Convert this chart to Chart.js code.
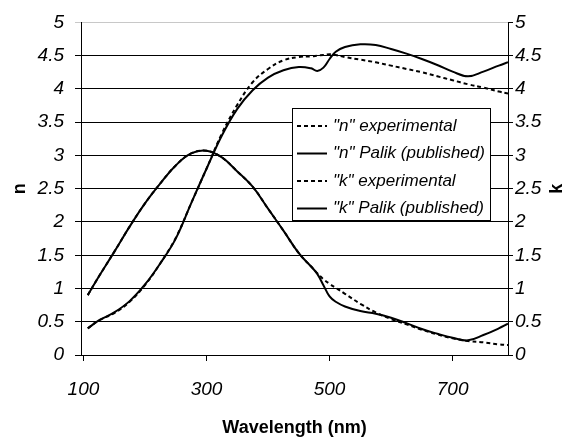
<!DOCTYPE html>
<html>
<head>
<meta charset="utf-8">
<script src="https://cdn.jsdelivr.net/npm/chart.js@4.4.1/dist/chart.umd.min.js"></script>
<style>
  html, body { margin: 0; padding: 0; background: #fff; }
</style>
</head>
<body>
<canvas id="chart" width="582" height="439"></canvas>
<script>
// values
const wavelength = [107, 125, 150, 175, 200, 225, 250, 275, 300, 325, 350, 375, 400, 425, 450, 470,
  480, 490, 500, 510, 525, 550, 575, 600, 625, 650, 675, 700, 725, 750, 775, 790];
const nExperimental = [0.40, 0.52, 0.63, 0.80, 1.05, 1.38, 1.76, 2.28, 2.80, 3.33, 3.76, 4.10, 4.30, 4.43, 4.48, 4.49,
  4.50, 4.51, 4.52, 4.51, 4.48, 4.44, 4.40, 4.35, 4.30, 4.25, 4.19, 4.13, 4.07, 4.02, 3.96, 3.93];
const nPalik = [0.40, 0.52, 0.64, 0.81, 1.06, 1.38, 1.75, 2.28, 2.80, 3.30, 3.70, 3.98, 4.17, 4.28, 4.33, 4.31,
  4.27, 4.32, 4.45, 4.56, 4.63, 4.67, 4.66, 4.60, 4.53, 4.45, 4.36, 4.26, 4.19, 4.26, 4.35, 4.40];
const kExperimental = [0.90, 1.18, 1.55, 1.93, 2.28, 2.58, 2.85, 3.03, 3.07, 2.97, 2.76, 2.53, 2.20, 1.87, 1.53, 1.33,
  1.23, 1.14, 1.07, 1.01, 0.92, 0.77, 0.64, 0.54, 0.46, 0.38, 0.31, 0.25, 0.21, 0.19, 0.16, 0.15];
const kPalik = [0.90, 1.18, 1.55, 1.93, 2.28, 2.58, 2.85, 3.03, 3.07, 2.97, 2.76, 2.53, 2.20, 1.87, 1.53, 1.33,
  1.22, 1.05, 0.88, 0.80, 0.73, 0.66, 0.62, 0.56, 0.48, 0.39, 0.32, 0.26, 0.22, 0.30, 0.40, 0.47];

const seriesLabels = ['"n" experimental', '"n" Palik (published)', '"k" experimental', '"k" Palik (published)'];
const xTicks = [100, 300, 500, 700];
const yTicks = [0, 0.5, 1, 1.5, 2, 2.5, 3, 3.5, 4, 4.5, 5];

const FONT = '"Liberation Sans", Arial, sans-serif';

const pts = (arr) => wavelength.map((w, i) => ({ x: w, y: arr[i] }));

// legend box inside the plot + right axis title rotated like Excel does it
const boxLegend = {
  id: 'boxLegend',
  afterDraw(chart) {
    const ctx = chart.ctx;
    const x = 292, y = 108, w = 198, h = 112;
    ctx.save();
    ctx.fillStyle = '#fff';
    ctx.fillRect(x, y, w, h);
    ctx.strokeStyle = '#000';
    ctx.lineWidth = 1;
    ctx.strokeRect(x + 0.5, y + 0.5, w, h);
    chart.data.datasets.forEach((ds, i) => {
      const cy = y + 18 + i * 27.5;
      ctx.beginPath();
      ctx.setLineDash(ds.borderDash || []);
      ctx.lineWidth = 2;
      ctx.strokeStyle = '#000';
      ctx.moveTo(x + 5, cy);
      ctx.lineTo(x + 35, cy);
      ctx.stroke();
      ctx.setLineDash([]);
      ctx.fillStyle = '#000';
      ctx.font = 'italic 17px ' + FONT;
      ctx.textBaseline = 'middle';
      ctx.textAlign = 'left';
      ctx.fillText(ds.label, x + 41, cy);
    });
    const area = chart.chartArea;
    ctx.translate(557, (area.top + area.bottom) / 2);
    ctx.rotate(-Math.PI / 2);
    ctx.font = 'bold 18px ' + FONT;
    ctx.textAlign = 'center';
    ctx.textBaseline = 'middle';
    ctx.fillText('k', 0, 0);
    ctx.restore();
  }
};

const tickFont = { family: FONT, size: 19, style: 'italic', weight: 'normal' };
const titleFont = { family: FONT, size: 18, style: 'normal', weight: 'bold' };
const plainLabel = v => String(v);

new Chart(document.getElementById('chart'), {
  type: 'line',
  data: {
    datasets: [
      { label: seriesLabels[0], data: pts(nExperimental), yAxisID: 'y', borderDash: [4, 3] },
      { label: seriesLabels[1], data: pts(nPalik), yAxisID: 'y' },
      { label: seriesLabels[2], data: pts(kExperimental), yAxisID: 'y2', borderDash: [4, 3] },
      { label: seriesLabels[3], data: pts(kPalik), yAxisID: 'y2' }
    ].map(ds => Object.assign({
      borderColor: '#000',
      borderWidth: 2,
      pointRadius: 0,
      fill: false,
      tension: 0.4
    }, ds))
  },
  options: {
    responsive: false,
    animation: false,
    layout: { padding: { top: 21, left: 0, right: 0, bottom: 0 } },
    plugins: { legend: { display: false }, tooltip: { enabled: false } },
    scales: {
      x: {
        type: 'linear',
        min: 96,
        max: 790,
        afterBuildTicks: s => { s.ticks = xTicks.map(v => ({ value: v })); },
        afterFit: s => { s.height = 84; },
        grid: { drawOnChartArea: false, tickLength: 6, color: '#000' },
        border: { color: '#000', width: 1 },
        ticks: { color: '#000', font: tickFont, padding: 17, maxRotation: 0, callback: plainLabel },
        title: {
          display: true,
          text: 'Wavelength (nm)',
          color: '#000',
          font: titleFont,
          padding: { top: 0, bottom: 0 }
        }
      },
      y: {
        position: 'left',
        min: 0,
        max: 5,
        afterBuildTicks: s => { s.ticks = yTicks.map(v => ({ value: v })); },
        afterFit: s => { s.width = 81; },
        grid: {
          tickLength: 6,
          color: c => (c.tick && c.tick.value === 5 ? '#c8c8c8' : '#000')
        },
        border: { color: '#000', width: 1 },
        ticks: { color: '#000', font: tickFont, padding: 11, callback: plainLabel },
        title: {
          display: true,
          text: 'n',
          color: '#000',
          font: titleFont,
          padding: { top: 9, bottom: 0 }
        }
      },
      y2: {
        position: 'right',
        min: 0,
        max: 5,
        afterBuildTicks: s => { s.ticks = yTicks.map(v => ({ value: v })); },
        afterFit: s => { s.width = 74; },
        grid: { drawOnChartArea: false, tickLength: 5, color: '#000' },
        border: { color: '#000', width: 1 },
        ticks: { color: '#000', font: tickFont, padding: 2, callback: plainLabel }
      }
    }
  },
  plugins: [boxLegend]
});
</script>
</body>
</html>
